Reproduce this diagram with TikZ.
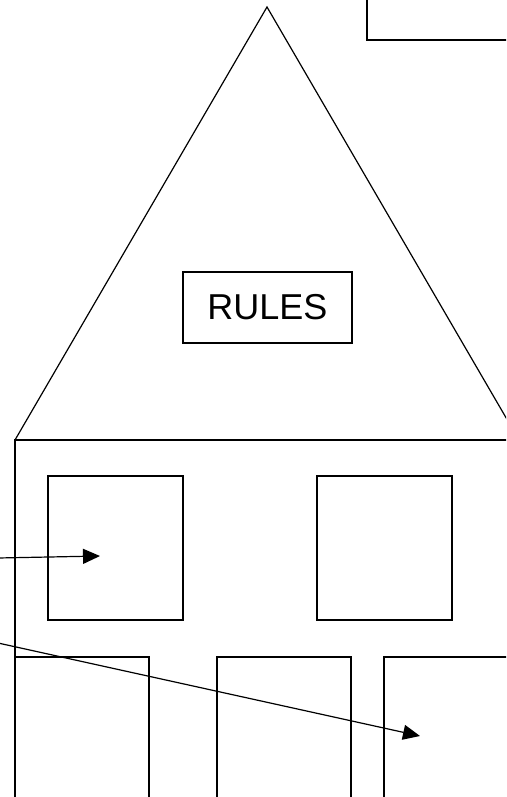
\documentclass[tikz,border=0pt]{standalone}
\usepackage{fontspec}
\setmainfont{Liberation Sans}
\usetikzlibrary{arrows.meta}
\begin{document}
\begin{tikzpicture}[x=1pt,y=-1pt,
  wall/.style={draw=black,line width=1.2pt},
  conn/.style={draw=black,line width=1.2pt,-{Triangle[length=17pt,width=15pt]}},
  label/.style={draw=black,line width=1.3pt,minimum width=169pt,minimum height=71pt,inner sep=0pt,font=\fontsize{36}{42}\selectfont}]
\useasboundingbox (0,0) rectangle (506,797);
\clip (0,0) rectangle (506,797);
% top right box
\draw[wall] (367,-10) rectangle (530,40);
% roof
\draw[wall] (15,440) -- (267,7) -- (519,440);
% base line and left wall
\draw[wall] (530,440) -- (15,440) -- (15,810);
% windows
\draw[wall] (48,476) rectangle (183,620);
\draw[wall] (317,476) rectangle (452,620);
% doors
\draw[wall] (15,810) -- (15,657) -- (149,657) -- (149,810);
\draw[wall] (217,810) -- (217,657) -- (351,657) -- (351,810);
\draw[wall] (384,810) -- (384,657) -- (530,657);
% label
\node[label] (rules) at (267.5,307.5) {RULES};
% arrows
\coordinate (s1) at (-2,558);
\coordinate (t1) at (100,556);
\coordinate (s2) at (-2,643);
\coordinate (t2) at (420,736);
\draw[conn] (s1) -- (t1);
\draw[conn] (s2) -- (t2);
\end{tikzpicture}
\end{document}
